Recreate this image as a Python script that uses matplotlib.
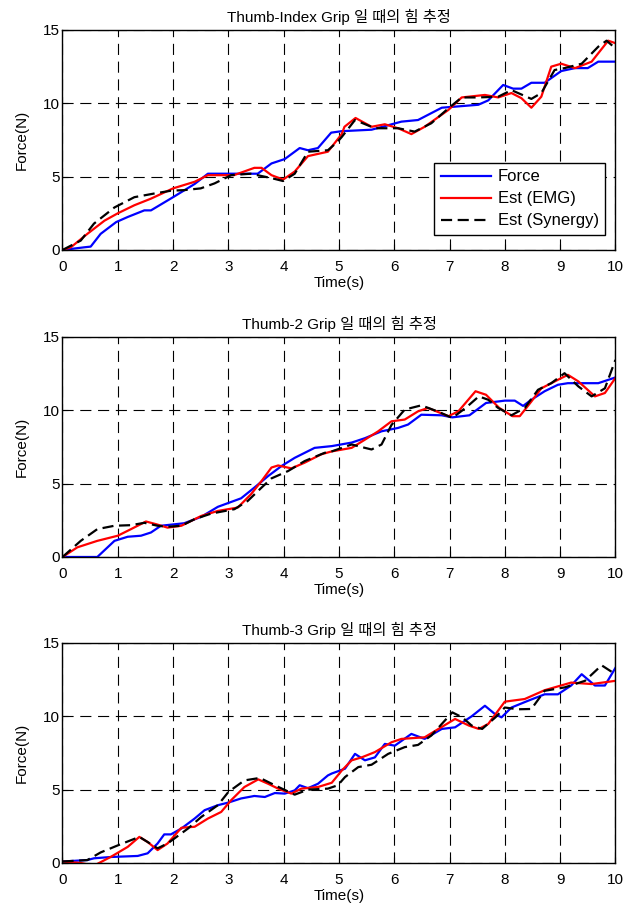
import numpy as np
import matplotlib.pyplot as plt

plt.rcParams['font.family'] = ['Liberation Sans', 'Noto Sans CJK KR']

titles = ['Thumb-Index Grip 일 때의 힘 추정',
          'Thumb-2 Grip 일 때의 힘 추정',
          'Thumb-3 Grip 일 때의 힘 추정']
labels = ['Force', 'Est (EMG)', 'Est (Synergy)']

# panel 1 : Thumb-Index
f1_t = [0, 0.39, 0.51, 0.69, 0.97, 1.18, 1.48, 1.6, 2.0, 2.39, 2.63, 3.0, 3.53, 3.78, 4.02, 4.29,
        4.44, 4.62, 4.86, 5.05, 5.59, 6.13, 6.43, 6.86, 7.52, 7.7, 7.97, 8.15, 8.3, 8.48, 8.72,
        9.02, 9.27, 9.5, 9.69, 10]
f1_y = [0, 0.18, 0.23, 1.1, 1.9, 2.25, 2.7, 2.7, 3.6, 4.5, 5.2, 5.2, 5.2, 5.9, 6.2, 6.95,
        6.8, 6.95, 8.0, 8.1, 8.2, 8.75, 8.86, 9.7, 9.9, 10.2, 11.25, 11.0, 11.0, 11.4, 11.4,
        12.2, 12.4, 12.4, 12.84, 12.84]
e1_t = [0, 0.15, 0.45, 0.76, 1.0, 1.3, 1.6, 2.0, 2.39, 2.63, 3.1, 3.47, 3.6, 3.78, 3.99, 4.2,
        4.44, 4.8, 5.05, 5.1, 5.3, 5.59, 5.83, 6.07, 6.31, 6.55, 6.98, 7.22, 7.64, 7.88, 8.12,
        8.3, 8.48, 8.66, 8.84, 9.02, 9.27, 9.57, 9.87, 10]
e1_y = [0, 0.18, 1.1, 2.0, 2.5, 3.05, 3.5, 4.2, 4.65, 5.1, 5.1, 5.6, 5.6, 5.1, 4.8, 5.35,
        6.4, 6.7, 7.9, 8.4, 9.0, 8.4, 8.57, 8.3, 7.9, 8.4, 9.55, 10.4, 10.57, 10.4, 10.7,
        10.35, 9.7, 10.45, 12.5, 12.7, 12.4, 12.84, 14.27, 14.1]
s1_t = [0, 0.33, 0.57, 0.94, 1.3, 1.66, 1.96, 2.2, 2.5, 2.75, 3.05, 3.4, 3.78, 3.99, 4.2, 4.44,
        4.8, 4.98, 5.05, 5.29, 5.65, 6.07, 6.37, 6.67, 6.98, 7.22, 7.52, 7.88, 8.12, 8.3, 8.48,
        8.66, 8.9, 9.08, 9.39, 9.69, 9.84, 10]
s1_y = [0, 0.64, 1.8, 2.9, 3.6, 3.85, 4.04, 4.08, 4.2, 4.54, 5.1, 5.2, 4.9, 4.7, 5.2, 6.7,
        6.8, 7.4, 7.7, 8.86, 8.3, 8.3, 8.07, 8.64, 9.66, 10.4, 10.4, 10.45, 10.9, 10.6, 10.3,
        10.7, 12.27, 12.4, 12.7, 13.86, 14.27, 13.75]

# panel 2 : Thumb-2
f2_t = [0, 0.63, 0.94, 1.18, 1.42, 1.6, 1.78, 2.2, 2.51, 2.81, 3.23, 3.47, 3.72, 3.96, 4.2, 4.56,
        4.87, 5.23, 5.47, 5.77, 6.07, 6.25, 6.49, 6.86, 7.05, 7.36, 7.66, 8.0, 8.18, 8.33, 8.48,
        8.72, 8.96, 9.14, 9.69, 10]
f2_y = [0, 0.0, 1.1, 1.38, 1.45, 1.67, 2.13, 2.3, 2.74, 3.42, 4.0, 4.73, 5.52, 6.2, 6.76, 7.44,
        7.56, 7.8, 8.1, 8.57, 8.8, 9.03, 9.7, 9.66, 9.52, 9.66, 10.5, 10.66, 10.66, 10.3, 10.72,
        11.3, 11.74, 11.85, 11.85, 12.24]
e2_t = [0, 0.27, 0.63, 1.0, 1.24, 1.51, 1.69, 1.9, 2.15, 2.51, 2.81, 3.17, 3.41, 3.6, 3.78, 3.9,
        4.14, 4.38, 4.68, 4.87, 5.23, 5.47, 5.71, 5.95, 6.19, 6.43, 6.61, 6.98, 7.16, 7.47, 7.66,
        7.9, 8.14, 8.27, 8.48, 8.66, 8.96, 9.14, 9.33, 9.63, 9.81, 10]
e2_y = [0, 0.66, 1.1, 1.45, 1.9, 2.42, 2.24, 2.0, 2.13, 2.8, 3.14, 3.37, 4.28, 5.18, 6.1, 6.24,
        6.04, 6.43, 7.0, 7.2, 7.44, 8.0, 8.57, 9.25, 9.37, 9.93, 10.16, 9.6, 9.93, 11.3, 11.06,
        10.16, 9.6, 9.6, 10.6, 11.5, 12.08, 12.42, 11.97, 10.95, 11.18, 12.2]
s2_t = [0, 0.33, 0.63, 0.94, 1.24, 1.48, 1.72, 1.9, 2.15, 2.39, 2.69, 3.11, 3.35, 3.6, 3.78, 4.08,
        4.38, 4.74, 4.87, 5.23, 5.47, 5.59, 5.77, 5.95, 6.19, 6.49, 6.8, 7.05, 7.29, 7.53, 7.7,
        7.88, 8.12, 8.36, 8.6, 8.84, 9.08, 9.33, 9.57, 9.81, 10]
s2_y = [0, 1.1, 1.9, 2.13, 2.17, 2.33, 2.13, 2.06, 2.13, 2.58, 2.96, 3.26, 3.82, 4.73, 5.36, 5.86,
        6.54, 7.1, 7.2, 7.67, 7.44, 7.33, 7.67, 9.0, 10.05, 10.34, 9.9, 9.48, 10.16, 10.95, 10.72,
        10.16, 9.66, 10.16, 11.4, 11.85, 12.53, 11.63, 10.95, 11.5, 13.44]

# panel 3 : Thumb-3
f3_t = [0, 0.45, 0.57, 0.88, 1.36, 1.54, 1.72, 1.84, 1.96, 2.15, 2.39, 2.57, 2.81, 3.0, 3.23, 3.47,
        3.66, 3.84, 4.02, 4.2, 4.29, 4.44, 4.62, 4.8, 4.87, 5.11, 5.29, 5.47, 5.65, 5.83, 6.01,
        6.31, 6.55, 6.86, 7.1, 7.4, 7.64, 7.82, 7.94, 8.12, 8.42, 8.72, 8.96, 9.2, 9.39, 9.63,
        9.81, 10]
f3_y = [0.1, 0.2, 0.32, 0.41, 0.48, 0.66, 1.33, 1.95, 1.95, 2.35, 3.03, 3.6, 3.94, 4.12, 4.4, 4.57,
        4.5, 4.77, 4.73, 4.95, 5.3, 5.1, 5.4, 5.97, 6.1, 6.43, 7.44, 7.0, 7.2, 8.12, 8.0,
        8.8, 8.46, 9.14, 9.25, 10.0, 10.72, 10.16, 9.93, 10.6, 11.06, 11.5, 11.5, 12.1, 12.87, 12.1,
        12.1, 13.3]
e3_t = [0, 0.33, 0.57, 0.88, 1.18, 1.39, 1.54, 1.72, 1.9, 2.15, 2.39, 2.63, 2.87, 3.05, 3.29, 3.54,
        3.72, 3.9, 4.14, 4.32, 4.62, 4.87, 5.05, 5.23, 5.41, 5.65, 5.95, 6.13, 6.55, 6.8, 7.1,
        7.35, 7.53, 7.7, 8.0, 8.36, 8.72, 9.2, 9.57, 10]
e3_y = [0.1, 0.0, -0.18, 0.43, 1.1, 1.78, 1.43, 0.88, 1.33, 2.4, 2.47, 3.03, 3.48, 4.28, 5.18, 5.7,
        5.4, 5.07, 4.73, 5.07, 5.18, 5.47, 6.3, 7.0, 7.2, 7.56, 8.23, 8.46, 8.57, 9.14, 9.82,
        9.37, 9.14, 9.48, 11.0, 11.18, 11.78, 12.3, 12.2, 12.42]
s3_t = [0, 0.45, 0.69, 1.0, 1.39, 1.54, 1.72, 1.9, 2.27, 2.51, 2.81, 3.0, 3.29, 3.57, 3.84, 4.2,
        4.44, 4.8, 4.98, 5.11, 5.35, 5.59, 5.89, 6.19, 6.43, 6.67, 6.86, 7.05, 7.23, 7.4, 7.59,
        7.83, 8.0, 8.24, 8.48, 8.72, 9.08, 9.45, 9.75, 10]
s3_y = [0.1, 0.2, 0.72, 1.2, 1.78, 1.43, 1.0, 1.33, 2.35, 3.14, 3.94, 4.84, 5.63, 5.8, 5.3, 4.66,
        5.0, 5.07, 5.3, 5.86, 6.54, 6.7, 7.44, 7.9, 8.05, 8.69, 9.48, 10.27, 9.93, 9.37, 9.14,
        9.93, 10.6, 10.48, 10.5, 11.74, 11.97, 12.42, 13.48, 12.87]

panels = [
    (f1_t, f1_y, e1_t, e1_y, s1_t, s1_y),
    (f2_t, f2_y, e2_t, e2_y, s2_t, s2_y),
    (f3_t, f3_y, e3_t, e3_y, s3_t, s3_y),
]

fig = plt.figure(figsize=(6.37, 9.11), dpi=100)
bottoms = [0.7256, 0.3886, 0.0527]

for i, (ft, fy, et, ey, st, sy) in enumerate(panels):
    ax = fig.add_axes([0.0981, bottoms[i], 0.868, 0.2415])
    ax.plot(ft, fy, color='#0000ff', lw=1.6, label=labels[0])
    ax.plot(et, ey, color='#ff0000', lw=1.6, label=labels[1])
    ax.plot(st, sy, color='black', lw=1.6, ls=(0, (5, 2.5)), label=labels[2])
    ax.set_xlim(0, 10)
    ax.set_ylim(0, 15)
    ax.set_xticks(range(0, 11))
    ax.set_yticks([0, 5, 10, 15])
    ax.grid(True, color='black', lw=0.8, ls=(0, (10, 6)))
    ax.tick_params(direction='in', labelsize=11, length=4)
    ax.tick_params(axis='x', pad=7)
    ax.tick_params(axis='y', pad=2)
    for s in ax.spines.values():
        s.set_linewidth(1.0)
    ax.set_title(titles[i], fontsize=11, pad=6)
    ax.set_xlabel('Time(s)', fontsize=11, labelpad=2)
    ax.set_ylabel('Force(N)', fontsize=11, labelpad=10)
    if i == 0:
        ax.legend(loc='lower right', bbox_to_anchor=(0.982, 0.068), borderaxespad=0,
                  fancybox=False, edgecolor='black', framealpha=1, fontsize=12,
                  handlelength=3.0, handletextpad=0.4, labelspacing=0.42, borderpad=0.4)

plt.savefig('out.png', dpi=100)
